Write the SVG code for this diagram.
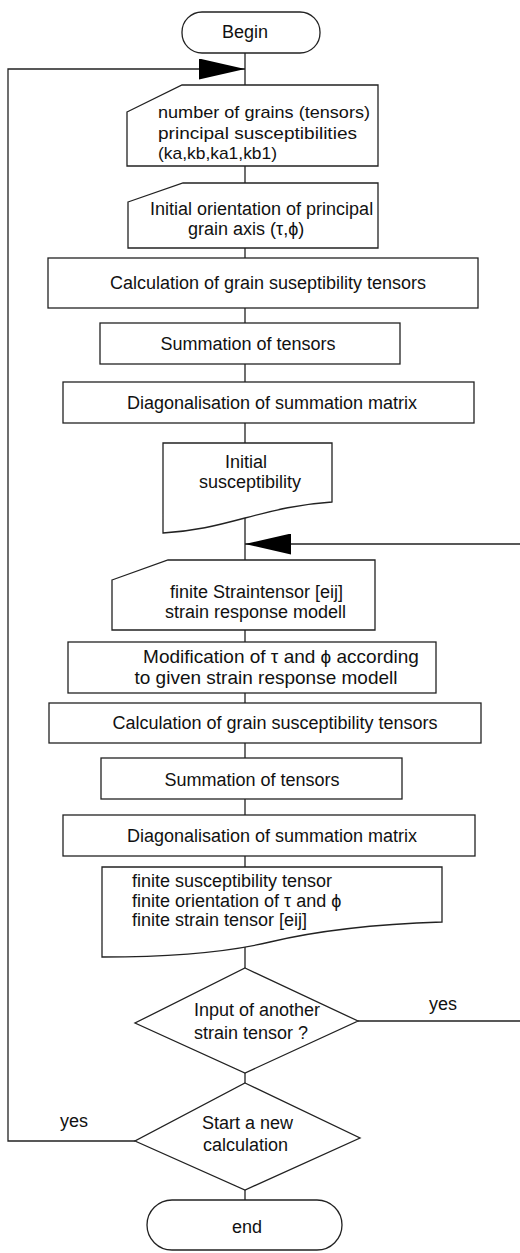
<svg xmlns="http://www.w3.org/2000/svg" width="520" height="1253" viewBox="0 0 520 1253">
<style>
.shape{fill:#fff;stroke:#222;stroke-width:1.3}
.con{fill:none;stroke:#222;stroke-width:1.3}
text{font-family:"Liberation Sans","DejaVu Sans",Arial,sans-serif;font-size:18px;fill:#111}
.c{text-anchor:middle}
.sm{font-size:17px}
</style>
<defs>
<marker id="big" viewBox="0 0 46 21" markerWidth="46" markerHeight="21" refX="46" refY="10.5" markerUnits="userSpaceOnUse" orient="auto">
<path d="M0,0 L46,10.5 L0,21 Z" fill="#000"/>
</marker>
</defs>
<rect width="520" height="1253" fill="#fff"/>
<g id="connectors">
<path class="con" d="M245,53 V85 M245,166 V183 M245,248 V258 M245,308 V323 M245,364 V382 M245,423 V443 M245,518 V560 M245,630 V642 M245,693 V703 M245,743 V758 M245,799 V815 M245,856 V867 M245,947 V968 M245,1073 V1083 M245,1190 V1200"/>
<path class="con" d="M135,1141 H8 V69 H245" marker-end="url(#big)"/>
<path class="con" d="M358,1021 H522 V544 H245" marker-end="url(#big)"/>
<text x="443" y="1010" class="c">yes</text>
<text x="74" y="1127" class="c">yes</text>
</g>
<g id="begin">
<rect class="shape" x="182" y="12" width="138" height="41" rx="20"/>
<text x="245" y="38" class="c">Begin</text>
</g>
<g id="input1">
<path class="shape" d="M127,112 L182,85 H378 V166 H127 Z"/>
<text x="158" y="118" class="sm" textLength="212" lengthAdjust="spacingAndGlyphs">number of grains (tensors)</text>
<text x="158" y="138.5" class="sm" textLength="199" lengthAdjust="spacingAndGlyphs">principal susceptibilities</text>
<text x="158" y="159" class="sm" textLength="119" lengthAdjust="spacingAndGlyphs">(ka,kb,ka1,kb1)</text>
</g>
<g id="input2">
<path class="shape" d="M128,202 L183,183 H378 V248 H128 Z"/>
<text x="150" y="215">Initial orientation of principal</text>
<text x="188" y="235">grain axis (τ,ϕ)</text>
</g>
<g id="calc1">
<rect class="shape" x="48" y="258" width="430" height="50"/>
<text x="268" y="289" class="c">Calculation of grain suseptibility tensors</text>
</g>
<g id="sum1">
<rect class="shape" x="100" y="323" width="300" height="41"/>
<text x="248" y="350" class="c">Summation of tensors</text>
</g>
<g id="diag1">
<rect class="shape" x="63" y="382" width="411" height="41"/>
<text x="272" y="409" class="c">Diagonalisation of summation matrix</text>
</g>
<g id="initial">
<path class="shape" d="M163,443 H332 V502 C300,504 275,510 245,518 C215,526 195,531 163,533 Z"/>
<text x="246" y="468" class="c">Initial</text>
<text x="250" y="488" class="c">susceptibility</text>
</g>
<g id="input3">
<path class="shape" d="M112,580 L168,560 H375 V630 H112 Z"/>
<text x="170" y="598">finite Straintensor [eij]</text>
<text x="165" y="618">strain response modell</text>
</g>
<g id="modify">
<rect class="shape" x="68" y="642" width="368" height="51"/>
<text x="281" y="663" class="c" style="font-size:19px">Modification of τ and ϕ according</text>
<text x="266" y="684" class="c" style="font-size:19px">to given strain response modell</text>
</g>
<g id="calc2">
<rect class="shape" x="49" y="703" width="432" height="40"/>
<text x="275" y="729" class="c">Calculation of grain susceptibility tensors</text>
</g>
<g id="sum2">
<rect class="shape" x="101" y="758" width="301" height="41"/>
<text x="252" y="786" class="c">Summation of tensors</text>
</g>
<g id="diag2">
<rect class="shape" x="63" y="815" width="412" height="41"/>
<text x="272" y="842" class="c">Diagonalisation of summation matrix</text>
</g>
<g id="output">
<path class="shape" d="M102,867 H442 V922 C380,924 320,930 270,942 C220,954 160,957 102,957 Z"/>
<text x="132" y="887">finite susceptibility tensor</text>
<text x="132" y="907">finite orientation of τ and ϕ</text>
<text x="132" y="926">finite strain tensor [eij]</text>
</g>
<g id="decision1">
<path class="shape" d="M245,968 L358,1021 L245,1073 L135,1023 Z"/>
<text x="194" y="1016">Input of another</text>
<text x="194" y="1039">strain tensor ?</text>
</g>
<g id="decision2">
<path class="shape" d="M245,1083 L360,1138 L245,1190 L135,1141 Z"/>
<text x="202" y="1129">Start a new</text>
<text x="203" y="1151">calculation</text>
</g>
<g id="end">
<rect class="shape" x="147" y="1200" width="195" height="50" rx="25"/>
<text x="247" y="1233" class="c">end</text>
</g>
</svg>
